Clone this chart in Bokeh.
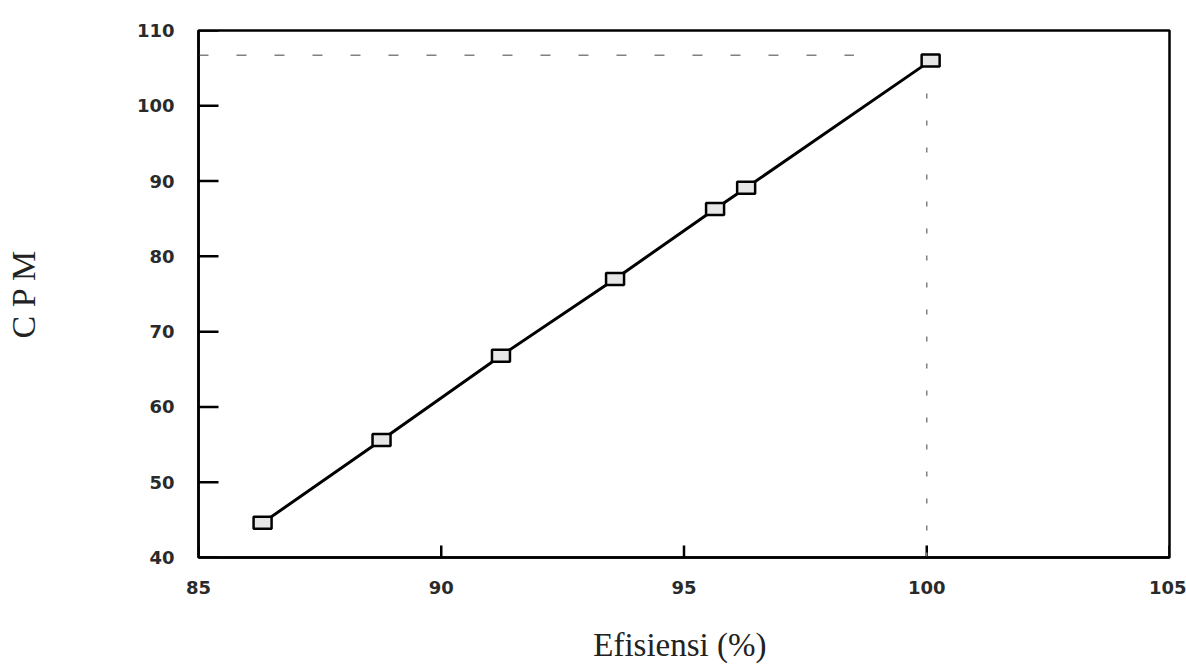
from bokeh.plotting import figure
from bokeh.models import FixedTicker
from bokeh.embed import file_html
from bokeh.resources import INLINE

# data
efisiensi = [86.32, 88.77, 91.23, 93.58, 95.64, 96.28, 100.08]
cpm = [44.6, 55.6, 66.8, 77.0, 86.3, 89.1, 106.0]
x_ticks = [85, 90, 95, 100, 105]
y_ticks = [40, 50, 60, 70, 80, 90, 100, 110]
ref_h_x = [85, 98.5]
ref_h_y = [106.7, 106.7]
ref_v_x = [100, 100]
ref_v_y = [40, 104]

x_min, x_max = 85, 105
y_min, y_max = 40, 110

W, H = 1186, 666
BL, BR, BT, BB = 198, 17, 30, 109
frame_w = W - BL - BR
frame_h = H - BT - BB
px_x = frame_w / (x_max - x_min)
px_y = frame_h / (y_max - y_min)

p = figure(width=W, height=H, output_backend="svg", toolbar_location=None,
           x_range=(x_min, x_max), y_range=(y_min, y_max),
           min_border_left=BL, min_border_right=BR, min_border_top=BT, min_border_bottom=BB)

p.background_fill_color = "white"
p.border_fill_color = "white"
p.grid.visible = False
p.outline_line_color = "black"
p.outline_line_width = 2.5

for ax in (p.xaxis[0], p.yaxis[0]):
    ax.axis_line_width = 2.5
    ax.axis_line_color = "black"
    ax.major_tick_line_color = None
    ax.minor_tick_line_color = None
    ax.major_label_text_font = "DejaVu Sans"
    ax.major_label_text_font_style = "bold"
    ax.major_label_text_font_size = "18px"
    ax.major_label_text_color = "#2a2a2a"
    ax.axis_label_text_font = "Liberation Serif"
    ax.axis_label_text_font_style = "normal"
    ax.axis_label_text_color = "#222222"

p.xaxis.ticker = FixedTicker(ticks=x_ticks)
p.yaxis.ticker = FixedTicker(ticks=y_ticks)
p.xaxis.major_label_standoff = 17
p.yaxis.major_label_standoff = 18

p.xaxis.axis_label = "Efisiensi  (%)"
p.xaxis.axis_label_text_font_size = "33px"
p.xaxis.axis_label_standoff = 30
p.yaxis.axis_label = "C P M"
p.yaxis.axis_label_text_font_size = "34px"
p.yaxis.axis_label_standoff = 92

# inward tick marks, drawn as one broken line per axis
nan = float("nan")
y_tick_len = 20 / px_x
x_tick_len = 12 / px_y
ytx, yty = [], []
for t in y_ticks:
    ytx += [x_min, x_min + y_tick_len, nan]
    yty += [t, t, nan]
xtx, xty = [], []
for t in x_ticks:
    xtx += [t, t, nan]
    xty += [y_min, y_min + x_tick_len, nan]
p.line(ytx, yty, line_color="black", line_width=2.5)
p.line(xtx, xty, line_color="black", line_width=2.5)

# reference lines
p.line(ref_h_x, ref_h_y, line_color="#808080", line_width=1.5, line_dash="10 28")
p.line(ref_v_x, ref_v_y, line_color="#808080", line_width=1.5, line_dash="5 22")

# data line and markers
p.line(efisiensi, cpm, line_color="black", line_width=3)
p.rect(efisiensi, cpm, width=18, height=12, width_units="screen", height_units="screen",
       fill_color="#e6e6e6", line_color="black", line_width=2.5)

open("out.html", "w").write(file_html(p, INLINE))
